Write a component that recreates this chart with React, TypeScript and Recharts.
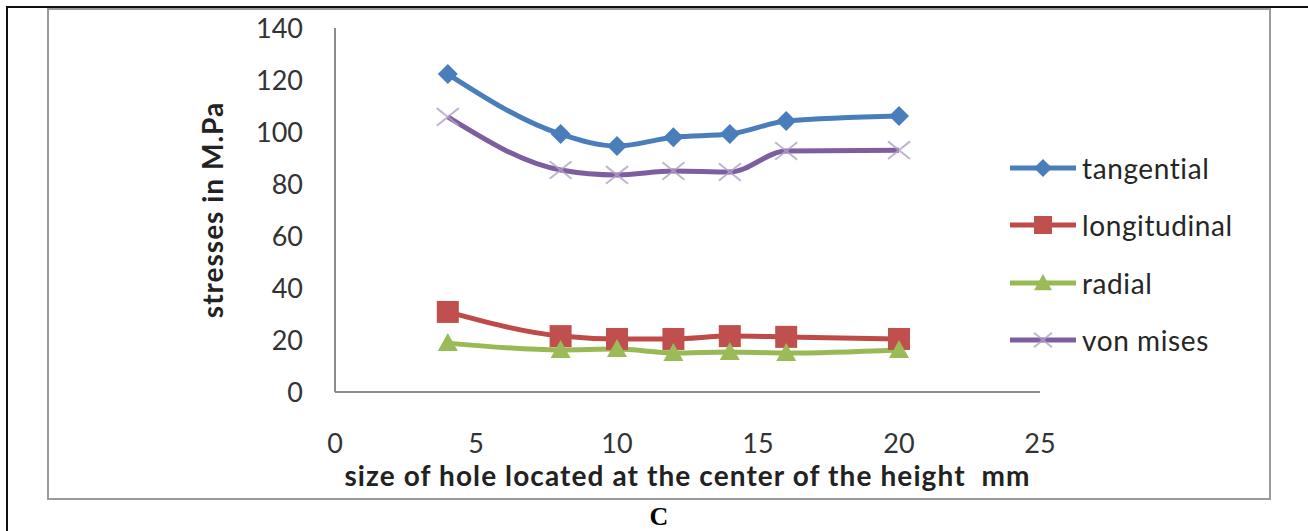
import { LineChart, Line, XAxis, YAxis } from 'recharts';

const holeSizes = [4, 8, 10, 12, 14, 16, 20];
const tangential = [122.3, 99.2, 94.6, 98, 99.2, 104.2, 106.2];
const longitudinal = [30.8, 21.5, 20.4, 20.4, 21.5, 21.2, 20.4];
const radial = [18.8, 16.2, 16.5, 15, 15.4, 15, 16.2];
const vonMises = [105.8, 85.4, 83.5, 85, 84.6, 92.7, 93];
const xTicks = [0, 5, 10, 15, 20, 25];
const yTicks = [0, 20, 40, 60, 80, 100, 120, 140];

const data = holeSizes.map((size, i) => ({
  size,
  tangential: tangential[i],
  longitudinal: longitudinal[i],
  radial: radial[i],
  vonMises: vonMises[i],
}));

const FONT = 'Lato, "Open Sans", sans-serif';

const Diamond = ({ cx, cy, r = 10, fill }: any) => (
  <polygon points={`${cx},${cy - r} ${cx + r},${cy} ${cx},${cy + r} ${cx - r},${cy}`} fill={fill} />
);
const Square = ({ cx, cy, r = 11, fill }: any) => (
  <rect x={cx - r} y={cy - r} width={2 * r} height={2 * r} fill={fill} />
);
const Triangle = ({ cx, cy, r = 10, fill }: any) => (
  <polygon points={`${cx},${cy - r} ${cx + r},${cy + r * 0.8} ${cx - r},${cy + r * 0.8}`} fill={fill} />
);
const Cross = ({ cx, cy, r = 11, stroke }: any) => (
  <g stroke={stroke} strokeWidth={2} opacity={0.8}>
    <line x1={cx - r} y1={cy - r * 0.8} x2={cx + r} y2={cy + r * 0.8} />
    <line x1={cx - r} y1={cy + r * 0.8} x2={cx + r} y2={cy - r * 0.8} />
  </g>
);

const series = [
  { key: 'tangential', name: 'tangential', color: '#4A7EBB', mark: (p: any) => <Diamond {...p} fill="#4A7EBB" /> },
  { key: 'longitudinal', name: 'longitudinal', color: '#BE4B48', mark: (p: any) => <Square {...p} fill="#C0504D" /> },
  { key: 'radial', name: 'radial', color: '#98B954', mark: (p: any) => <Triangle {...p} fill="#9BBB59" /> },
  { key: 'vonMises', name: 'von mises', color: '#7D5FA0', mark: (p: any) => <Cross {...p} stroke="#B3A2C7" /> },
];

// legend sits to the right of the plot, one row per series
const LegendBox = () => (
  <div
    style={{
      position: 'absolute',
      left: 1010,
      top: 139,
      fontFamily: FONT,
      fontSize: 28,
      letterSpacing: 0.6,
      color: '#262626',
    }}
  >
    {series.map((s) => (
      <div key={s.key} style={{ display: 'flex', alignItems: 'center', height: 57.5 }}>
        <svg width={72} height={30} style={{ flex: 'none' }}>
          <line x1={0} y1={15} x2={66} y2={15} stroke={s.color} strokeWidth={5} />
          {s.mark({ cx: 33, cy: 15, r: 9 })}
        </svg>
        <span>{s.name}</span>
      </div>
    ))}
  </div>
);

export default function App() {
  return (
    <div style={{ position: 'absolute', left: 0, top: 0, width: 1308, height: 531, background: '#fff' }}>
      <div style={{ position: 'absolute', left: 6, top: 6, width: 1302, height: 2, background: '#111' }} />
      <div style={{ position: 'absolute', left: 6, top: 6, width: 2, height: 525, background: '#111' }} />
      <div
        style={{
          position: 'absolute',
          left: 47,
          top: 8,
          width: 1220,
          height: 488,
          border: '2px solid #9a9a9a',
          background: '#fff',
        }}
      />
      <div
        style={{
          position: 'absolute',
          left: 0,
          width: 1318,
          top: 502,
          textAlign: 'center',
          fontFamily: '"Liberation Serif", serif',
          fontWeight: 'bold',
          fontSize: 26,
          lineHeight: '30px',
        }}
      >
        C
      </div>
      <div style={{ position: 'absolute', left: 0, top: 0 }}>
        <LineChart width={1308} height={531} data={data} margin={{ top: 28, right: 268, left: 185, bottom: 39 }}>
          <XAxis
            dataKey="size"
            type="number"
            domain={[0, 25]}
            ticks={xTicks}
            axisLine={{ stroke: '#8c8c8c', strokeWidth: 2 }}
            tickLine={false}
            tickSize={0}
            tickMargin={42}
            height={100}
            tick={{ fill: '#333', fontSize: 27, fontFamily: FONT }}
            label={{
              value: 'size of hole located at the center of the height\u00a0 mm',
              position: 'insideBottom',
              offset: 6,
              style: { fontFamily: FONT, fontSize: 28, letterSpacing: 1.1, fontWeight: 'bold', fill: '#222' },
            }}
          />
          <YAxis
            type="number"
            domain={[0, 140]}
            ticks={yTicks}
            width={150}
            axisLine={{ stroke: '#8c8c8c', strokeWidth: 2 }}
            tickLine={false}
            tickSize={0}
            tickMargin={32}
            tick={{ fill: '#333', fontSize: 27, fontFamily: FONT }}
            label={{
              value: 'stresses in M.Pa',
              angle: -90,
              position: 'insideLeft',
              offset: 28,
              style: {
                fontFamily: FONT,
                fontSize: 28,
                letterSpacing: 1,
                fontWeight: 'bold',
                fill: '#222',
                textAnchor: 'middle',
              },
            }}
          />
          {series.map((s) => (
            <Line
              key={s.key}
              type="monotone"
              dataKey={s.key}
              name={s.name}
              stroke={s.color}
              strokeWidth={5}
              dot={(p: any) => <g key={`${s.key}-${p.index}`}>{s.mark({ cx: p.cx, cy: p.cy })}</g>}
              activeDot={false}
              isAnimationActive={false}
            />
          ))}
        </LineChart>
      </div>
      <LegendBox />
    </div>
  );
}
